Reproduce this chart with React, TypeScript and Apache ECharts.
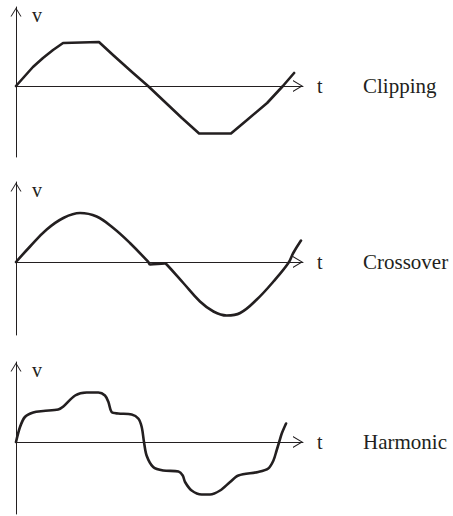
import React, { useEffect, useRef } from "react";
import * as echarts from "echarts";

// ---- data (t in 0..100 units, v in relative volts) ----
const clipT = [0, 3.1, 5.9, 9.4, 12.9, 16.4, 28.9, 33.8, 40.8, 46.0, 51.9, 57.8, 63.8, 74.9, 80.5, 87.5, 93.0, 96.9];
const clipV = [0, 0.2, 0.38, 0.56, 0.72, 0.86, 0.88, 0.62, 0.26, 0, -0.32, -0.64, -0.95, -0.95, -0.68, -0.34, 0, 0.26];

const crossT = [0, 4.9, 10.7, 16.5, 22.3, 28.1, 33.9, 39.7, 46.1, 46.7, 51.9, 52.5, 58.3, 64.1, 68.8, 73.4, 78.1, 83.9, 89.7, 94.9, 96.6, 99.3];
const crossV = [0, 0.31, 0.65, 0.88, 0.98, 0.91, 0.68, 0.38, 0, -0.05, -0.03, -0.05, -0.42, -0.79, -0.99, -1.07, -1.02, -0.75, -0.39, -0.02, 0.18, 0.43];

const harmT = [0, 1.4, 3.1, 6.0, 9.5, 14.7, 16.5, 20.6, 24.6, 28.7, 31.0, 32.2, 33.3, 35.6, 40.3, 42.6, 43.8, 44.6, 45.5, 47.8, 51.3, 56.6, 58.1, 58.9, 61.2, 64.7, 67.6, 71.1, 74.6, 77.5, 84.4, 87.9, 89.7, 90.8, 91.7, 92.6, 94.1];
const harmV = [0, 0.3, 0.5, 0.59, 0.62, 0.65, 0.71, 0.93, 0.99, 0.99, 0.93, 0.8, 0.6, 0.57, 0.55, 0.47, 0.3, 0, -0.27, -0.5, -0.57, -0.59, -0.67, -0.8, -0.97, -1.05, -1.05, -0.97, -0.8, -0.67, -0.6, -0.53, -0.37, -0.17, 0, 0.17, 0.37];

const panelLabels = ["Clipping", "Crossover", "Harmonic"];
const vMax = [1.58, 1.6, 1.6];
const vMin = [-1.42, -1.46, -1.44];
const tMax = 100;

const INK = "#231f20";
const FONT = "Liberation Serif";
// open chevron arrow (points up before ECharts rotates it)
const CHEVRON = "path://M0,10 L6,0 L12,10 L10.83,10 L6,1.95 L1.17,10 Z";

const zip = (a: number[], b: number[]) => a.map((x, i) => [x, b[i]]);

export default function App() {
  const ref = useRef<HTMLDivElement>(null);
  useEffect(() => {
    if (!ref.current) return;
    const chart = echarts.init(ref.current, null, { renderer: "svg" });
    const grids = [
      { left: 16, top: 7, width: 287, height: 150 },
      { left: 16, top: 182, width: 287, height: 153 },
      { left: 16, top: 362, width: 287, height: 152 },
    ];
    const zeroY = [86, 262, 442];
    const seriesData = [zip(clipT, clipV), zip(crossT, crossV), zip(harmT, harmV)];
    const smooth = [false, 0.4, 0.3];

    const option: any = {
      animation: false,
      grid: grids.map((g) => ({ ...g, containLabel: false })),
      xAxis: grids.map((_, i) => ({
        type: "value",
        gridIndex: i,
        min: 0,
        max: tMax,
        name: "t",
        nameLocation: "end",
        nameGap: 14,
        nameTextStyle: { fontFamily: FONT, fontSize: 20, color: INK },
        axisLine: {
          onZero: true,
          lineStyle: { color: INK, width: 1 },
          symbol: ["none", CHEVRON],
          symbolSize: [12, 10],
          symbolOffset: [0, -5],
        },
        axisTick: { show: false },
        axisLabel: { show: false },
        splitLine: { show: false },
      })),
      yAxis: grids.map((_, i) => ({
        type: "value",
        gridIndex: i,
        min: vMin[i],
        max: vMax[i],
        name: "v",
        nameLocation: "end",
        nameGap: -8,
        nameTextStyle: {
          fontFamily: FONT,
          fontSize: 20,
          color: INK,
          align: "left",
          verticalAlign: "middle",
          padding: [0, 0, 0, 16],
        },
        axisLine: {
          onZero: true,
          lineStyle: { color: INK, width: 1 },
          symbol: ["none", CHEVRON],
          symbolSize: [11, 10],
          symbolOffset: [0, -5],
        },
        axisTick: { show: false },
        axisLabel: { show: false },
        splitLine: { show: false },
      })),
      series: seriesData.map((d, i) => ({
        type: "line",
        name: panelLabels[i],
        xAxisIndex: i,
        yAxisIndex: i,
        data: d,
        showSymbol: false,
        smooth: smooth[i],
        lineStyle: { color: INK, width: 2.6, cap: "round", join: "round" },
        silent: true,
      })),
      graphic: panelLabels.map((label, i) => ({
        type: "text",
        x: 363,
        y: zeroY[i],
        style: {
          text: label,
          fontFamily: FONT,
          fontSize: 21,
          fill: INK,
          verticalAlign: "middle",
          align: "left",
        },
      })),
    };
    chart.setOption(option);
    return () => chart.dispose();
  }, []);
  return (
    <div
      ref={ref}
      style={{ position: "absolute", left: 0, top: 0, width: 453, height: 516, background: "#fff" }}
    />
  );
}
